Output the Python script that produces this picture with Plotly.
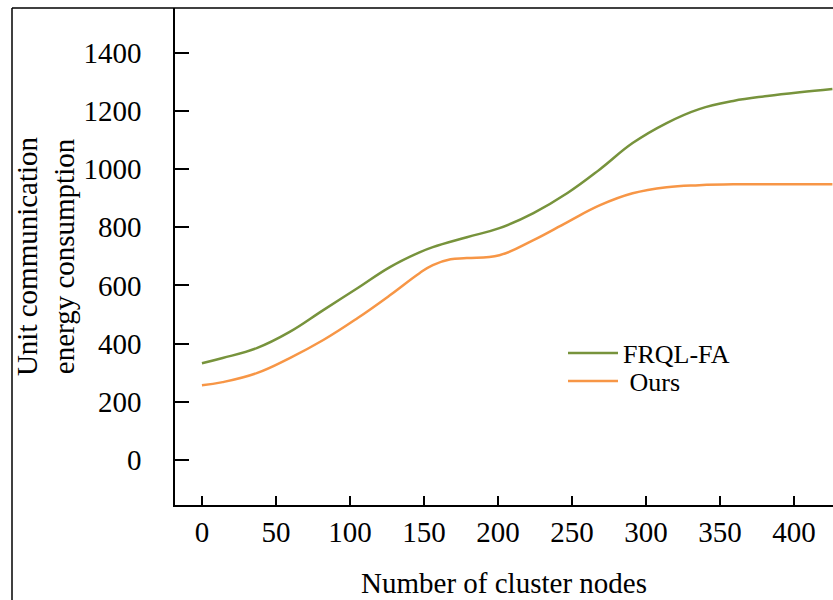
import plotly.graph_objects as go

# Data
nodes_frql = [0, 14, 37, 59, 82, 105, 127, 147, 156, 179, 201, 224, 247, 269, 291, 314, 336, 359, 382, 404, 426]
energy_frql = [332, 350, 384, 439, 515, 590, 663, 714, 732, 766, 797, 849, 918, 1000, 1090, 1159, 1207, 1235, 1252, 1265, 1276]

nodes_ours = [0, 14, 37, 59, 82, 105, 127, 147, 156, 168, 179, 201, 224, 247, 269, 291, 314, 336, 359, 382, 426]
energy_ours = [256, 267, 298, 349, 412, 487, 566, 642, 670, 690, 694, 704, 756, 818, 876, 917, 938, 945, 948, 948, 948]

x_ticks = [0, 50, 100, 150, 200, 250, 300, 350, 400]
y_ticks = [0, 200, 400, 600, 800, 1000, 1200, 1400]

series_names = ["FRQL-FA", " Ours"]
colors = ["#77933C", "#F79646"]

FONT = "Liberation Serif"

fig = go.Figure()
fig.add_trace(go.Scatter(x=nodes_frql, y=energy_frql, mode="lines", name=series_names[0],
                         line=dict(color=colors[0], width=2.5, shape="spline", smoothing=1.2),
                         legend="legend", showlegend=True))
fig.add_trace(go.Scatter(x=nodes_ours, y=energy_ours, mode="lines", name=series_names[1],
                         line=dict(color=colors[1], width=2.5, shape="spline", smoothing=1.2),
                         legend="legend2", showlegend=True))

W, H = 833, 600
L, R, T, B = 175, 0, 8, 95
pw, ph = W - L - R, H - T - B

def px_x(p):
    return (p - L) / pw

def px_y(p):
    return (H - B - p) / ph

fig.update_layout(
    width=W, height=H,
    showlegend=True,
    margin=dict(l=L, r=R, t=T, b=B, pad=0),
    paper_bgcolor="white", plot_bgcolor="white",
    font=dict(family=FONT, size=29, color="black"),
    xaxis=dict(
        range=[-18.2, 426.4], tickvals=x_ticks, ticktext=[str(v) for v in x_ticks],
        showgrid=False, zeroline=False, showline=True, linecolor="black", linewidth=1.5,
        ticks="inside", ticklen=9, tickwidth=1.5, tickcolor="black",
        ticklabelstandoff=0,
        title=dict(text="Number of cluster nodes", font=dict(size=29), standoff=26),
    ),
    yaxis=dict(
        range=[-156, 1555], tickvals=y_ticks, ticktext=[str(v) for v in y_ticks],
        showgrid=False, zeroline=False, showline=True, linecolor="black", linewidth=1.5,
        ticks="inside", ticklen=14, tickwidth=1.5, tickcolor="black",
        ticklabelstandoff=26,
        title=dict(text="Unit communication<br>energy consumption", font=dict(size=29), standoff=0),
    ),
    legend=dict(x=px_x(563), y=px_y(353), xanchor="left", yanchor="middle",
                bgcolor="rgba(0,0,0,0)", font=dict(size=26), itemwidth=50),
    legend2=dict(x=px_x(563), y=px_y(381), xanchor="left", yanchor="middle",
                 bgcolor="rgba(0,0,0,0)", font=dict(size=26), itemwidth=50),
    shapes=[
        dict(type="line", xref="paper", yref="paper", x0=px_x(12), x1=1.01, y0=px_y(8), y1=px_y(8),
             line=dict(color="black", width=1.5)),
        dict(type="line", xref="paper", yref="paper", x0=px_x(12), x1=px_x(12), y0=px_y(8), y1=px_y(610),
             line=dict(color="black", width=1.5)),
    ],
)

fig.write_html("out.html")
